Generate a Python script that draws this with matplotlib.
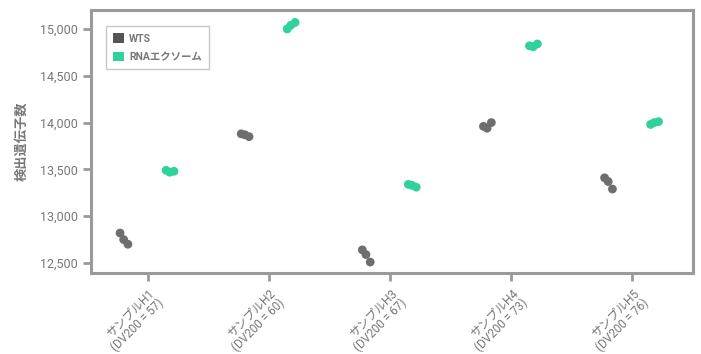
import matplotlib
matplotlib.use("Agg")
import matplotlib.pyplot as plt
from matplotlib.patches import Patch
import numpy as np

plt.rcParams['font.family'] = ['Roboto', 'Noto Sans CJK JP', 'DejaVu Sans']

# Samples and detected gene counts (3 replicates each)
samples = ["サンプルH1", "サンプルH2", "サンプルH3", "サンプルH4", "サンプルH5"]
dv200 = [57, 60, 67, 73, 76]
wts_counts = [
    [12820, 12750, 12700],
    [13880, 13870, 13850],
    [12640, 12590, 12510],
    [13960, 13940, 14000],
    [13410, 13370, 13290],
]
exome_counts = [
    [13490, 13470, 13480],
    [15000, 15040, 15070],
    [13340, 13330, 13310],
    [14820, 14810, 14840],
    [13980, 14000, 14010],
]
series_names = ["WTS", "RNAエクソーム"]

# Styling
wts_color = "#6e6e6e"
wts_legend = "#555555"
exome_color = "#2fd29b"
axis_gray = "#9a9a9a"
text_gray = "#777777"
dodge = 0.2
jitter = [-0.03, 0.0, 0.035]

fig = plt.figure(figsize=(7.01, 3.54), dpi=100)
ax = fig.add_axes([0.1298, 0.2288, 0.8588, 0.743])

x = np.arange(len(samples))
for i in range(len(samples)):
    for j, v in enumerate(wts_counts[i]):
        ax.scatter(x[i] - dodge + jitter[j], v, s=40, color=wts_color,
                   edgecolors="none", zorder=3)
    for j, v in enumerate(exome_counts[i]):
        ax.scatter(x[i] + dodge - 0.02 + jitter[j], v, s=40, color=exome_color,
                   edgecolors="none", zorder=3)

ax.set_xlim(-0.47, 4.5)
ax.set_ylim(12393, 15203)
ax.set_yticks([12500, 13000, 13500, 14000, 14500, 15000])
ax.yaxis.set_major_formatter(matplotlib.ticker.FuncFormatter(lambda v, p: f"{int(v):,}"))
ax.set_xticks(x)
ax.set_xticklabels([f"{s}\n(DV200 = {d})" for s, d in zip(samples, dv200)],
                   rotation=45, ha="right", va="top", rotation_mode="anchor",
                   fontsize=8.5, color=text_gray, linespacing=1.0)

for sp in ax.spines.values():
    sp.set_color(axis_gray)
    sp.set_linewidth(2.2)
ax.tick_params(axis="both", colors=axis_gray, width=2.0, length=6,
               labelcolor=text_gray)
ax.tick_params(axis="y", labelsize=9)
ax.tick_params(axis="x", pad=4)

ax.set_ylabel("検出遺伝子数", fontsize=9.5, fontweight="bold", color=text_gray,
              labelpad=8)

handles = [Patch(facecolor=wts_legend, edgecolor="none"),
           Patch(facecolor=exome_color, edgecolor="none")]
leg = ax.legend(handles, series_names, loc="upper left",
                bbox_to_anchor=(0.025, 0.939), borderaxespad=0.0,
                frameon=True, fancybox=False,
                handlelength=1.0, handleheight=1.0, handletextpad=0.5,
                borderpad=0.7, labelspacing=0.8,
                prop={"size": 7.5, "weight": "bold"})
leg.get_frame().set_edgecolor("#bbbbbb")
leg.get_frame().set_linewidth(1.0)
for t in leg.get_texts():
    t.set_color(text_gray)

fig.savefig("out.png", dpi=100)
